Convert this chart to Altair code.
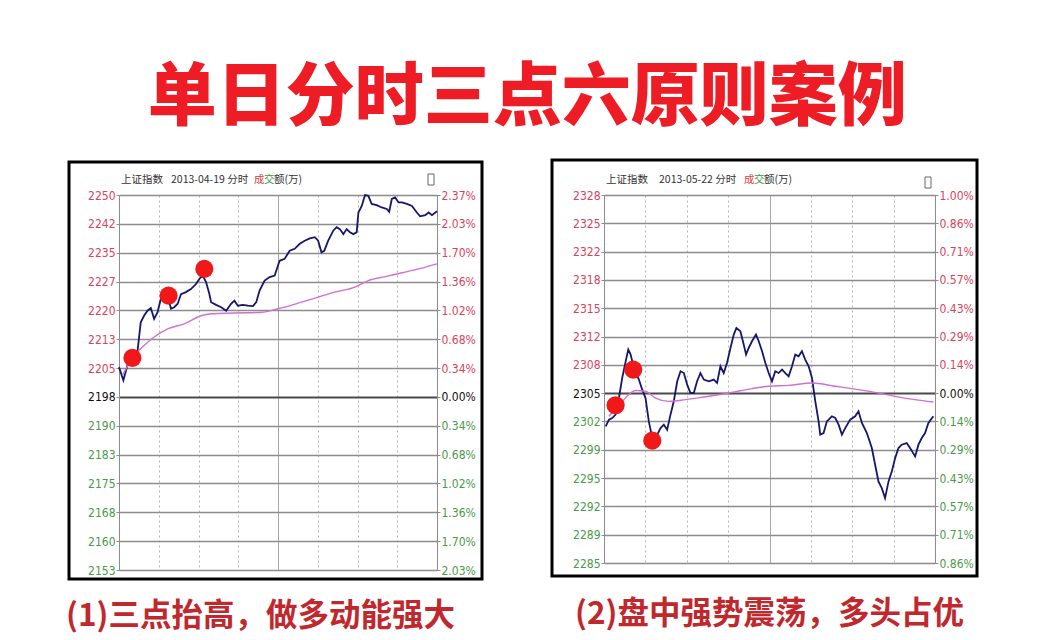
import json
import altair as alt
import pandas as pd

# ---------------- text ----------------
TITLE = "单日分时三点六原则案例"
CAPTION_L = "(1)三点抬高，做多动能强大"
CAPTION_R = "(2)盘中强势震荡，多头占优"
HEAD_NAME = "上证指数"
DATE_L = "2013-04-19 分时"
DATE_R = "2013-05-22 分时"

# ---------------- left panel (2013-04-19) ----------------
L_PRICE_LABELS = ['2250', '2242', '2235', '2227', '2220', '2213', '2205', '2198',
                  '2190', '2183', '2175', '2168', '2160', '2153']
L_PCT_LABELS = ['2.37%', '2.03%', '1.70%', '1.36%', '1.02%', '0.68%', '0.34%', '0.00%',
                '0.34%', '0.68%', '1.02%', '1.36%', '1.70%', '2.03%']
L_BASE, L_STEP = 2197.6, 7.46

L_T = [0.0, 3.3, 6.3, 10.1, 13.9, 16.4, 18.9, 21.5, 24.0, 26.5, 29.1, 31.6, 34.1, 36.7,
       39.2, 41.7, 44.3, 46.8, 50.5, 54.3, 58.1, 60.6, 63.2, 65.7, 68.2, 69.5, 73.3, 77.1,
       80.9, 84.6, 87.1, 89.7, 93.5, 97.3, 101.1, 103.6, 106.1, 109.9, 113.7, 117.5, 120.0,
       121.2, 125.0, 128.8, 132.6, 136.4, 140.2, 144.0, 147.8, 150.3, 152.8, 154.9, 157.9,
       161.7, 164.2, 166.7, 169.3, 171.8, 174.3, 176.9, 179.4, 180.7, 183.2, 185.7, 188.2,
       190.7, 194.5, 198.3, 202.1, 203.9, 205.9, 208.4, 211.0, 213.5, 217.3, 221.1, 224.8,
       227.3, 231.1, 233.7, 236.2, 240.0]
L_P = [2205.3, 2201.9, 2205.7, 2207.5, 2209.2, 2216.9, 2218.6, 2219.9, 2220.6, 2217.8,
       2219.5, 2223.0, 2224.2, 2223.8, 2220.4, 2220.8, 2221.7, 2224.2, 2224.7, 2225.5,
       2226.8, 2228.1, 2229.0, 2227.3, 2224.2, 2222.1, 2221.4, 2220.8, 2219.9, 2221.7,
       2222.5, 2221.2, 2221.4, 2221.2, 2221.1, 2222.1, 2225.1, 2227.7, 2228.6, 2229.0,
       2231.6, 2232.8, 2233.3, 2235.4, 2235.9, 2237.2, 2238.0, 2238.6, 2238.9, 2238.0,
       2235.0, 2235.4, 2238.0, 2240.6, 2241.5, 2241.0, 2239.7, 2241.0, 2240.2, 2239.7,
       2240.2, 2245.3, 2247.0, 2249.8, 2249.6, 2247.5, 2247.2, 2246.6, 2246.2, 2245.5,
       2248.8, 2249.2, 2247.9, 2247.9, 2247.5, 2247.0, 2245.3, 2244.3, 2244.6, 2245.3,
       2244.6, 2245.6]
LA_T = [2.6, 11.4, 18.9, 26.5, 36.7, 49.3, 61.9, 69.5, 87.1, 107.4, 120.0, 137.7, 150.3,
        162.9, 178.1, 188.2, 200.8, 213.5, 226.1, 240.0]
LA_P = [2203.2, 2208.3, 2210.9, 2213.1, 2215.2, 2216.5, 2218.6, 2219.1, 2219.3, 2219.5,
        2220.4, 2222.1, 2223.4, 2224.7, 2226.0, 2227.7, 2228.7, 2229.7, 2230.7, 2232.0]
LD_T = [10.1, 37.4, 64.4]
LD_P = [2207.7, 2223.8, 2230.7]

# ---------------- right panel (2013-05-22) ----------------
R_PRICE_LABELS = ['2328', '2325', '2322', '2318', '2315', '2312', '2308', '2305',
                  '2302', '2299', '2295', '2292', '2289', '2285']
R_PCT_LABELS = ['1.00%', '0.86%', '0.71%', '0.57%', '0.43%', '0.29%', '0.14%', '0.00%',
                '0.14%', '0.29%', '0.43%', '0.57%', '0.71%', '0.86%']
R_BASE, R_STEP = 2305.1, 3.29

R_T = [1.2, 3.6, 6.0, 8.4, 10.8, 13.2, 15.7, 17.6, 19.3, 21.7,
       25.3, 27.7, 30.1, 32.5, 35.0, 38.6, 41.0, 43.4, 45.8, 48.2,
       50.6, 53.1, 55.5, 57.9, 60.3, 62.7, 65.1, 67.5, 69.9, 72.4,
       76.0, 79.6, 82.0, 84.4, 86.8, 89.2, 91.7, 94.1, 96.0, 98.9,
       101.3, 103.0, 104.9, 107.3, 110.2, 112.2, 114.6, 117.0, 119.4, 121.8,
       124.2, 126.6, 129.1, 131.5, 133.9, 136.3, 138.7, 141.1, 143.5, 145.9,
       148.4, 150.8, 153.2, 155.6, 156.8, 159.2, 161.6, 165.2, 167.7, 170.1,
       172.5, 174.9, 178.5, 182.1, 184.5, 187.0, 190.6, 194.2, 196.6, 199.0,
       201.4, 203.8, 206.3, 208.7, 211.1, 213.5, 215.9, 219.5, 221.9, 225.6,
       228.0, 230.4, 232.8, 235.2, 238.8]
R_P = [2301.24, 2302.02, 2302.21, 2302.60, 2304.53, 2306.86, 2308.80, 2310.17, 2309.58, 2308.03,
       2306.68, 2305.51, 2304.53, 2301.82, 2299.88, 2300.28, 2301.04, 2301.44, 2300.86, 2302.60,
       2304.15, 2306.48, 2307.64, 2307.44, 2306.09, 2305.12, 2305.12, 2306.48, 2307.44, 2306.68,
       2306.48, 2306.68, 2306.28, 2308.22, 2307.44, 2308.61, 2310.35, 2311.91, 2312.68, 2312.30,
       2310.75, 2309.58, 2310.35, 2311.13, 2311.91, 2311.13, 2309.97, 2308.61, 2307.44, 2306.48,
       2307.64, 2307.44, 2307.84, 2307.44, 2307.06, 2308.22, 2309.58, 2309.39, 2309.97, 2309.00,
       2308.22, 2306.86, 2304.15, 2301.82, 2300.28, 2300.46, 2301.82, 2302.41, 2302.21, 2301.44,
       2300.28, 2301.04, 2302.02, 2302.41, 2302.99, 2301.63, 2300.46, 2298.72, 2296.78, 2294.84,
       2294.06, 2292.90, 2294.84, 2296.01, 2297.55, 2298.72, 2299.11, 2299.30, 2298.72, 2297.75,
       2299.11, 2299.88, 2300.46, 2301.63, 2302.41]
RA_T = [3.6, 13.2, 22.9, 30.1, 37.4, 47.0, 59.1, 71.2, 90.5, 107.3, 119.4, 133.9, 150.8,
        167.7, 184.5, 199.0, 211.1, 225.6, 238.8]
RA_P = [2302.41, 2304.15, 2305.40, 2305.31, 2304.53, 2304.15, 2304.35, 2304.62, 2305.12,
        2305.63, 2305.90, 2306.01, 2306.28, 2305.90, 2305.51, 2305.12, 2304.73, 2304.35, 2304.07]
RD_T = [8.4, 21.2, 35.0]
RD_P = [2303.69, 2307.84, 2299.58]

TIME_TICKS = [0, 30, 60, 90, 120, 150, 180, 210, 240]

# ---------------- styles ----------------
CJK = "Noto Sans CJK SC"
NUM_FONT = "Liberation Sans Narrow, Arial Narrow, DejaVu Sans Condensed, Liberation Sans, sans-serif"
TITLE_RED = "#ee1c25"
CAPTION_RED = "#c0282d"
LBL_RED = "#d8435c"
LBL_GREEN = "#4a9a4a"
GRID = "#8c8c8c"
ZERO = "#4a4a4a"
LINE = "#16166e"
AVG = "#d070d0"
DOT = "#f01818"


def panel(w, h, base, step, price_labels, pct_labels, T, P, AT, AP, DT, DP,
          date_text, frame, head, caption_pos, icon):
    grid = [base + k * step for k in range(-6, 8)]
    lo, hi = grid[0], grid[-1]
    idx = f"round((datum.value - {lo}) / {step})"
    left_expr = f"{json.dumps(list(reversed(price_labels)))}[{idx}]"
    right_expr = f"{json.dumps(list(reversed(pct_labels)))}[{idx}]"
    label_color = {"condition": [
        {"test": f"datum.value > {base + step / 2}", "value": LBL_RED},
        {"test": f"datum.value < {base - step / 2}", "value": LBL_GREEN}],
        "value": "#111111"}
    zero_test = f"abs(datum.value - {base}) < {step / 2}"

    y_scale = alt.Scale(domain=[lo, hi], nice=False, zero=False)
    x_axis = alt.Axis(values=TIME_TICKS, labels=False, ticks=False, domain=False, title=None,
                      grid=True,
                      gridColor={"condition": {"test": "datum.value == 120", "value": "#8a8a8a"},
                                 "value": "#b4b4b4"},
                      gridDash={"condition": {"test": "datum.value == 120", "value": [1, 0]},
                                "value": [2, 3]},
                      gridWidth=1)
    x_enc = alt.X("t:Q", scale=alt.Scale(domain=[0, 240], nice=False, zero=False), axis=x_axis)

    price_df = pd.DataFrame({"t": T, "p": P})
    avg_df = pd.DataFrame({"t": AT, "p": AP})
    dot_df = pd.DataFrame({"t": DT, "p": DP})
    one = pd.DataFrame({"a": [0]})

    frame_layer = alt.Chart(one).mark_rect(fillOpacity=0, stroke="black", strokeWidth=3).encode(
        x=alt.value(frame[0]), x2=alt.value(frame[1]),
        y=alt.value(frame[2]), y2=alt.value(frame[3]))

    price_layer = alt.Chart(price_df).mark_line(color=LINE, strokeWidth=1.8).encode(
        x=x_enc,
        y=alt.Y("p:Q", scale=y_scale, axis=alt.Axis(
            orient="left", values=grid, labelExpr=left_expr, labelColor=label_color,
            labelFont=NUM_FONT, labelFontSize=12, labelPadding=1, labelOverlap=False,
            tickSize=3, tickColor=GRID, domainColor=GRID, domainWidth=1, title=None,
            grid=True,
            gridColor={"condition": {"test": zero_test, "value": ZERO}, "value": GRID},
            gridWidth={"condition": {"test": zero_test, "value": 2.2}, "value": 1.5})))

    avg_layer = alt.Chart(avg_df).mark_line(color=AVG, strokeWidth=1.4,
                                            interpolate="monotone").encode(
        x=x_enc,
        y=alt.Y("p:Q", scale=y_scale, axis=alt.Axis(
            orient="right", values=grid, labelExpr=right_expr, labelColor=label_color,
            labelFont=NUM_FONT, labelFontSize=12, labelPadding=1, labelOverlap=False,
            tickSize=3, tickColor=GRID, domainColor=GRID, domainWidth=1, title=None,
            grid=False)))

    dot_layer = alt.Chart(dot_df).mark_circle(color=DOT, opacity=1, size=330).encode(
        x=x_enc, y=alt.Y("p:Q", scale=y_scale, axis=None))

    def txt(s, dx, dy, color="#333333", size=10.5, font=CJK, weight="normal"):
        return alt.Chart(one).mark_text(text=s, align="left", baseline="middle",
                                        font=font, fontSize=size, color=color,
                                        fontWeight=weight).encode(
            x=alt.value(dx), y=alt.value(dy))

    hx, hy = head
    head_layers = [
        txt(HEAD_NAME, hx[0], hy),
        txt(date_text, hx[1], hy),
        txt("成", hx[2], hy, color="#e03c3c"),
        txt("交", hx[3], hy, color="#3c9a3c"),
        txt("额(万)", hx[4], hy),
    ]
    icon_layer = alt.Chart(one).mark_rect(fillOpacity=0, stroke="#666666", strokeWidth=1).encode(
        x=alt.value(icon[0]), x2=alt.value(icon[1]),
        y=alt.value(icon[2]), y2=alt.value(icon[3]))

    cap_layer = txt(caption_pos[2], caption_pos[0], caption_pos[1], color=CAPTION_RED,
                    size=31.5, weight="bold")

    return alt.layer(frame_layer, price_layer, avg_layer, dot_layer, *head_layers,
                     icon_layer, cap_layer).resolve_axis(y="independent").properties(
        width=w, height=h)


left = panel(318, 375, L_BASE, L_STEP, L_PRICE_LABELS, L_PCT_LABELS, L_T, L_P, LA_T, LA_P,
             LD_T, LD_P, DATE_L, frame=(-50, 363, -33, 384),
             head=((2, 52, 135, 145, 155), -15), caption_pos=(-53, 422, CAPTION_L),
             icon=(309, 315, -21, -10))
right = panel(331, 368, R_BASE, R_STEP, R_PRICE_LABELS, R_PCT_LABELS, R_T, R_P, RA_T, RA_P,
              RD_T, RD_P, DATE_R, frame=(-52, 373, -35, 381),
              head=((2, 55, 140, 150, 160), -15), caption_pos=(-29, 420, CAPTION_R),
              icon=(321, 327, -18, -7))

chart = alt.hconcat(left, right, spacing=66).properties(
    title=alt.TitleParams(TITLE, font=CJK, fontSize=69, fontWeight=900, color=TITLE_RED,
                          anchor="middle", offset=24, dx=5),
    padding={"left": 57, "top": 57, "right": 5, "bottom": 2},
    background="white",
).configure_view(stroke="#9a9a9a", strokeWidth=1)

chart.save("out.html", embed_options={"renderer": "svg", "actions": False})
